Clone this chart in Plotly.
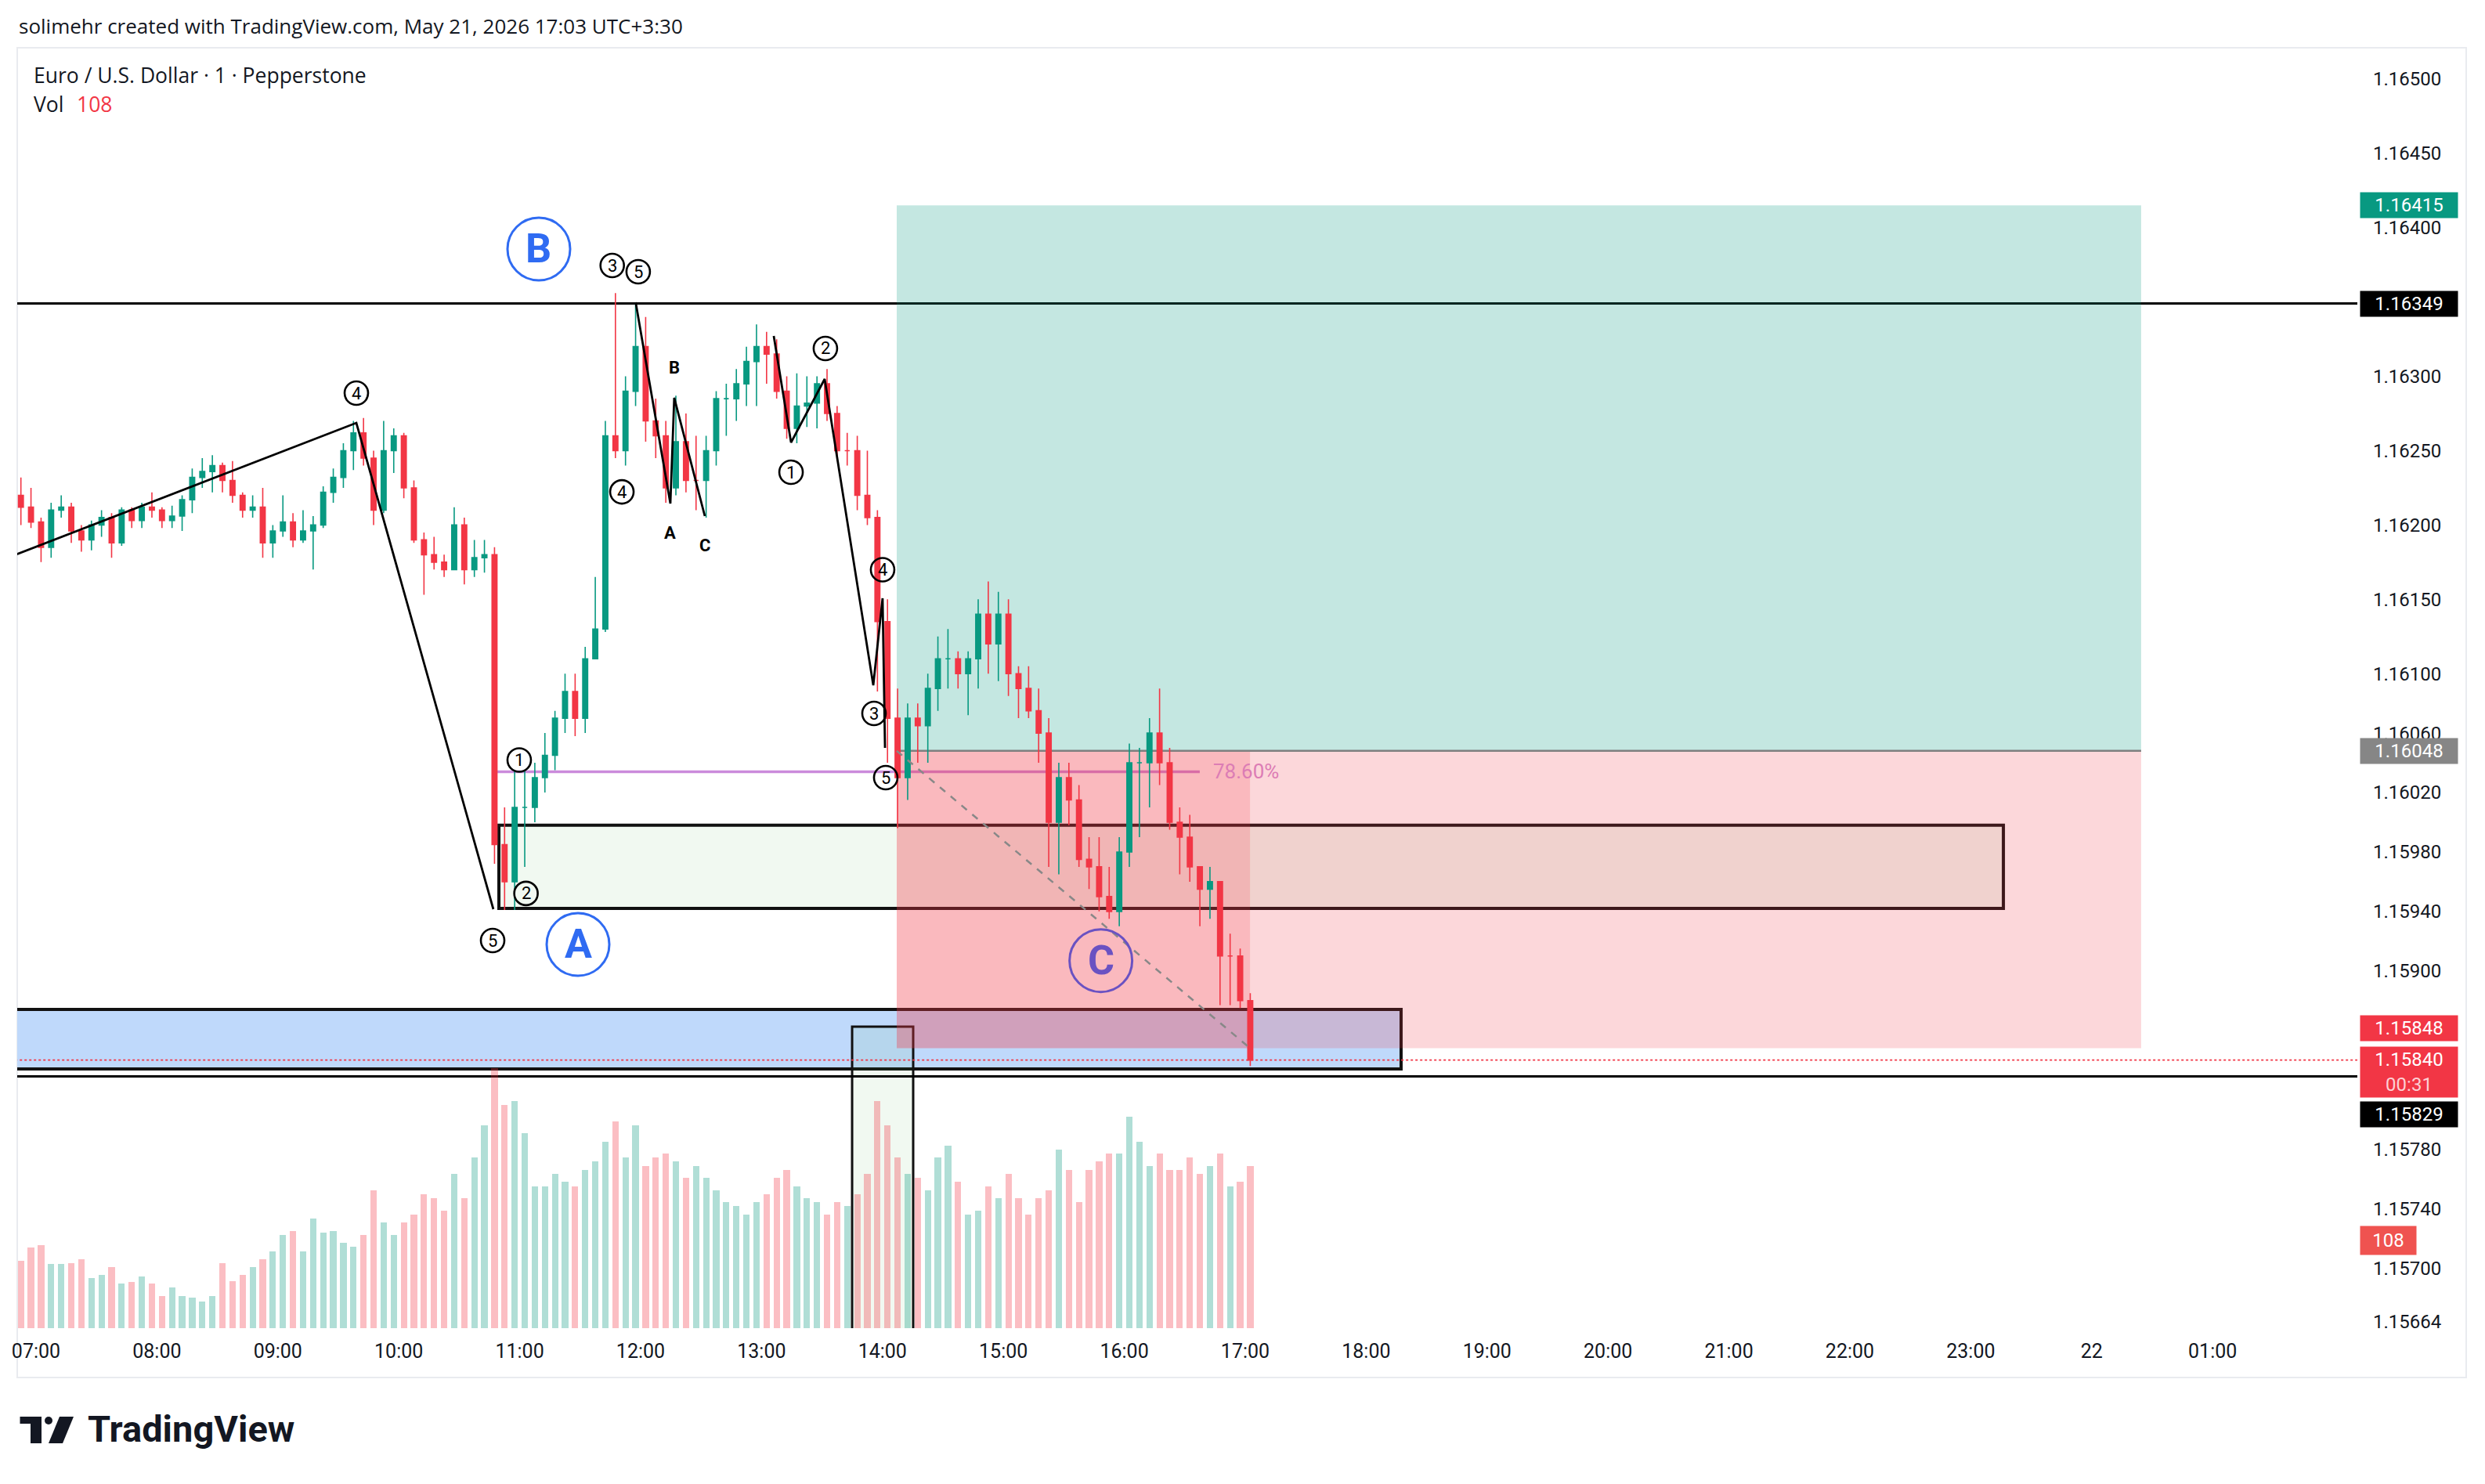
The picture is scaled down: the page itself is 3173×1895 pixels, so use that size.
import plotly.graph_objects as go

# ---------------- geometry of the figure (pixels) ----------------
FIG_W, FIG_H = 3173, 1895
PLOT_L, PLOT_R, PLOT_T, PLOT_B = 22, 3010, 61, 1696

X_RANGE = [6.8446, 26.197]          # hours of May 21 (24 = 22nd 00:00)
Y_RANGE = [1.156596, 1.165211]
VOL_RANGE = [0, 1577]

# ---------------- data (5-minute candles) ----------------
bar_times = [f"{h:02d}:{m:02d}" for h in range(6, 18) for m in range(0, 60, 5)
             if "06:50" <= f"{h:02d}:{m:02d}" <= "17:00"]

open_ = [1.16220,1.16212,1.16202,1.16185,1.16210,1.16212,1.16196,1.16190,1.16200,1.16205,
         1.16188,1.16210,1.16203,1.16212,1.16210,1.16203,1.16206,1.16217,1.16232,1.16236,
         1.16240,1.16230,1.16220,1.16210,1.16212,1.16188,1.16196,1.16202,1.16190,1.16196,
         1.16200,1.16222,1.16232,1.16250,1.16262,1.16245,1.16210,1.16250,1.16260,1.16225,
         1.16190,1.16180,1.16175,1.16170,1.16200,1.16170,1.16178,1.16180,1.15985,1.15960,
         1.16010,1.16010,1.16030,1.16045,1.16070,1.16088,1.16070,1.16110,1.16130,1.16260,
         1.16250,1.16290,1.16320,1.16270,1.16260,1.16225,1.16256,1.16230,1.16230,1.16250,
         1.16285,1.16285,1.16295,1.16310,1.16320,1.16315,1.16290,1.16265,1.16280,1.16282,
         1.16295,1.16275,1.16250,1.16250,1.16220,1.16205,1.16135,1.16070,1.16030,1.16070,
         1.16065,1.16090,1.16110,1.16110,1.16100,1.16110,1.16140,1.16120,1.16140,1.16100,
         1.16090,1.16075,1.16060,1.16000,1.16030,1.16015,1.15975,1.15970,1.15950,1.15940,
         1.15980,1.16040,1.16040,1.16060,1.16040,1.16000,1.15990,1.15970,1.15955,1.15960,
         1.15910,1.15910,1.15880]
high = [1.16232,1.16225,1.16205,1.16215,1.16220,1.16215,1.16200,1.16203,1.16210,1.16208,
        1.16212,1.16212,1.16215,1.16222,1.16212,1.16213,1.16220,1.16238,1.16245,1.16247,
        1.16242,1.16243,1.16222,1.16220,1.16225,1.16200,1.16220,1.16208,1.16210,1.16206,
        1.16226,1.16238,1.16255,1.16270,1.16272,1.16250,1.16270,1.16265,1.16262,1.16230,
        1.16195,1.16192,1.16180,1.16212,1.16205,1.16190,1.16190,1.16185,1.16010,1.16035,
        1.16035,1.16040,1.16060,1.16075,1.16100,1.16100,1.16118,1.16165,1.16270,1.16356,
        1.16300,1.16349,1.16340,1.16285,1.16270,1.16287,1.16275,1.16260,1.16260,1.16290,
        1.16295,1.16305,1.16320,1.16335,1.16330,1.16325,1.16300,1.16302,1.16300,1.16300,
        1.16305,1.16280,1.16262,1.16260,1.16250,1.16210,1.16150,1.16090,1.16080,1.16080,
        1.16100,1.16125,1.16130,1.16115,1.16115,1.16150,1.16162,1.16155,1.16150,1.16105,
        1.16105,1.16090,1.16070,1.16040,1.16040,1.16025,1.15990,1.15990,1.15970,1.15990,
        1.16053,1.16050,1.16070,1.16090,1.16050,1.16010,1.16005,1.15970,1.15970,1.15960,
        1.15925,1.15915,1.15885]
low = [1.16200,1.16198,1.16175,1.16178,1.16205,1.16188,1.16182,1.16183,1.16192,1.16178,
       1.16186,1.16198,1.16198,1.16205,1.16198,1.16198,1.16196,1.16208,1.16225,1.16222,
       1.16222,1.16215,1.16205,1.16205,1.16178,1.16178,1.16192,1.16185,1.16188,1.16170,
       1.16198,1.16215,1.16225,1.16237,1.16240,1.16200,1.16208,1.16235,1.16218,1.16188,
       1.16153,1.16170,1.16165,1.16170,1.16160,1.16165,1.16168,1.15972,1.15941,1.15941,
       1.15970,1.16000,1.16020,1.16035,1.16060,1.16058,1.16060,1.16110,1.16128,1.16245,
       1.16240,1.16280,1.16256,1.16245,1.16215,1.16220,1.16222,1.16210,1.16205,1.16240,
       1.16260,1.16270,1.16280,1.16280,1.16295,1.16285,1.16258,1.16255,1.16266,1.16265,
       1.16270,1.16243,1.16240,1.16210,1.16200,1.16088,1.16040,1.15996,1.16015,1.16040,
       1.16040,1.16075,1.16090,1.16090,1.16072,1.16090,1.16100,1.16095,1.16085,1.16070,
       1.16070,1.16040,1.15970,1.15965,1.15998,1.15970,1.15955,1.15940,1.15935,1.15930,
       1.15970,1.15990,1.16010,1.16025,1.15995,1.15965,1.15960,1.15930,1.15935,1.15877,
       1.15877,1.15875,1.15836]
close = [1.16212,1.16202,1.16185,1.16210,1.16212,1.16196,1.16190,1.16200,1.16205,1.16188,
         1.16210,1.16203,1.16212,1.16210,1.16203,1.16206,1.16217,1.16232,1.16236,1.16240,
         1.16230,1.16220,1.16210,1.16212,1.16188,1.16196,1.16202,1.16190,1.16196,1.16200,
         1.16222,1.16232,1.16250,1.16262,1.16245,1.16210,1.16250,1.16260,1.16225,1.16190,
         1.16180,1.16175,1.16170,1.16200,1.16170,1.16178,1.16180,1.15985,1.15960,1.16010,
         1.16010,1.16030,1.16045,1.16070,1.16088,1.16070,1.16110,1.16130,1.16260,1.16250,
         1.16290,1.16320,1.16270,1.16260,1.16225,1.16256,1.16230,1.16230,1.16250,1.16285,
         1.16285,1.16295,1.16310,1.16320,1.16315,1.16290,1.16265,1.16280,1.16282,1.16295,
         1.16275,1.16250,1.16250,1.16220,1.16205,1.16135,1.16070,1.16030,1.16070,1.16065,
         1.16090,1.16110,1.16110,1.16100,1.16110,1.16140,1.16120,1.16140,1.16100,1.16090,
         1.16075,1.16060,1.16000,1.16030,1.16015,1.15975,1.15970,1.15950,1.15940,1.15980,
         1.16040,1.16040,1.16060,1.16040,1.16000,1.15990,1.15970,1.15955,1.15960,1.15910,
         1.15910,1.15880,1.15840]
# volume per minute (average of each 5-minute block)
volume = [83,99,102,79,79,80,85,62,66,75,
          55,57,64,55,40,50,40,38,33,40,
          80,58,66,75,85,95,115,120,95,135,
          118,120,105,100,115,170,130,115,130,140,
          165,160,145,190,160,210,250,320,275,280,
          240,175,175,190,180,175,195,205,230,255,
          210,250,200,210,215,205,185,200,185,170,
          155,150,140,155,165,185,195,175,160,155,
          140,155,150,165,190,280,250,210,190,185,
          170,210,225,180,140,145,175,160,190,160,
          140,160,170,220,195,155,195,205,215,215,
          260,230,200,215,195,195,210,190,200,215,
          175,180,200]
last_bar_volume = 108

# x-axis ticks
tick_hours = [7, 8, 9, 10, 11, 12, 13, 14, 15, 16, 17, 18, 19, 20, 21, 22, 23, 24, 25]
tick_text = ["07:00", "08:00", "09:00", "10:00", "11:00", "12:00", "13:00", "14:00", "15:00",
             "16:00", "17:00", "18:00", "19:00", "20:00", "21:00", "22:00", "23:00", "22", "01:00"]
# y-axis ticks
price_ticks = [1.16500, 1.16450, 1.16400, 1.16300, 1.16250, 1.16200, 1.16150, 1.16100, 1.16060,
               1.16020, 1.15980, 1.15940, 1.15900, 1.15780, 1.15740, 1.15700, 1.15664]

# levels & drawings
level_high = 1.16349
level_low = 1.15829
last_price = 1.15840
entry_price, target_price, stop_price = 1.16048, 1.16415, 1.15848
pos_start, pos_now, pos_end = 14.118, 17.04, 24.409
green_zone = dict(t0=10.828, t1=23.27, p0=1.15942, p1=1.15998)
blue_zone = dict(t0=6.0, t1=18.289, p0=1.15834, p1=1.15874)
vol_zone = dict(t0=13.749, t1=14.254, p0=1.1550, p1=1.158625)
fib_price, fib_t0, fib_t1, fib_label_t = 1.16034, 10.80, 16.624, 17.006

# Elliott wave polylines
wave1_t = [6.80, 9.649, 10.782]
wave1_p = [1.16179, 1.162687, 1.159415]
wave2_t = [11.959, 12.246, 12.278, 12.531]
wave2_p = [1.163498, 1.162144, 1.162856, 1.162060]
wave3_t = [13.101, 13.244, 13.522, 13.924, 14.001, 14.021]
wave3_p = [1.163272, 1.162555, 1.162982, 1.160922, 1.161507, 1.160500]

# circled wave counts
count_text = ["4", "5", "1", "2", "3", "5", "4", "1", "2", "3", "4", "5"]
count_t = [9.649, 10.776, 10.996, 11.052, 11.765, 11.980, 11.845, 13.244, 13.528, 13.930, 14.001, 14.027]
count_p = [1.162887, 1.159204, 1.160419, 1.159521, 1.163746, 1.163704, 1.162223, 1.162355,
           1.163188, 1.160732, 1.161699, 1.160300]
# corrective letters
abc_text = ["B", "A", "C"]
abc_t = [12.278, 12.246, 12.531]
abc_p = [1.163061, 1.161949, 1.161865]
# big circled waves
big_text = ["B", "A", "C"]
big_t = [11.158, 11.482, 15.806]
big_p = [1.163857, 1.159178, 1.159069]
big_color = ["#2f6bf2", "#2f6bf2", "#6a52c2"]

# ---------------- helpers ----------------
def hours(s):
    h, m = s.split(":")
    return int(h) + int(m) / 60.0

def px(X):
    return (X - PLOT_L) / (PLOT_R - PLOT_L)

def py(Y):
    return (PLOT_B - Y) / (PLOT_B - PLOT_T)

bar_x = [hours(s) + 2.5 / 60 for s in bar_times]
UP, DOWN = "#089981", "#f23645"
vol_colors = ["rgba(8,153,129,0.32)" if c >= o else "rgba(242,54,69,0.32)" for o, c in zip(open_, close)]

FONT = "Roboto"
HEAD_FONT = "Open Sans"
TXT = "#131722"

fig = go.Figure()
fig.add_trace(go.Bar(x=bar_x, y=volume, width=3.2 / 60, marker=dict(color=vol_colors, line=dict(width=0)),
                     yaxis="y2", hoverinfo="skip", showlegend=False))
fig.add_trace(go.Candlestick(x=bar_x, open=open_, high=high, low=low, close=close,
                             increasing=dict(line=dict(color=UP, width=1.6), fillcolor=UP),
                             decreasing=dict(line=dict(color=DOWN, width=1.6), fillcolor=DOWN),
                             whiskerwidth=0, hoverinfo="skip", showlegend=False))
for wt, wp in ((wave1_t, wave1_p), (wave2_t, wave2_p), (wave3_t, wave3_p)):
    fig.add_trace(go.Scatter(x=wt, y=wp, mode="lines", line=dict(color="#000000", width=2.8),
                             hoverinfo="skip", showlegend=False))

shapes = []
def rect(t0, t1, p0, p1, fill, line_color=None, lw=0, layer="below"):
    shapes.append(dict(type="rect", xref="x", yref="y", x0=t0, x1=t1, y0=p0, y1=p1,
                       fillcolor=fill, line=dict(color=line_color or "rgba(0,0,0,0)", width=lw),
                       layer=layer))

def hline(p, t0, t1, color, width, dash="solid", layer="below"):
    shapes.append(dict(type="line", xref="x", yref="y", x0=t0, x1=t1, y0=p, y1=p,
                       line=dict(color=color, width=width, dash=dash), layer=layer))

# zones (under the position tool)
rect(green_zone["t0"], green_zone["t1"], green_zone["p0"], green_zone["p1"],
     "rgba(76,175,80,0.08)", "#111111", 4)
rect(blue_zone["t0"], blue_zone["t1"], blue_zone["p0"], blue_zone["p1"], "#bfd9fb", "#111111", 4)
rect(vol_zone["t0"], vol_zone["t1"], vol_zone["p0"], vol_zone["p1"], "rgba(76,175,80,0.08)", "#111111", 3)
hline(level_high, 5, 27, "#000000", 3)
hline(level_low, 5, 27, "#000000", 3)
hline(fib_price, fib_t0, fib_t1, "rgba(190,110,210,0.8)", 3.5)
# long position tool
rect(pos_start, pos_end, entry_price, target_price, "rgba(8,153,129,0.24)")
rect(pos_start, pos_now, stop_price, entry_price, "rgba(242,54,69,0.35)")
rect(pos_now, pos_end, stop_price, entry_price, "rgba(242,54,69,0.2)")
hline(entry_price, pos_start, pos_end, "#7f7f7f", 2.5)
shapes.append(dict(type="line", xref="x", yref="y", x0=pos_start, y0=entry_price, x1=pos_now, y1=stop_price,
                   line=dict(color="#888888", width=2.5, dash="dash"), layer="above"))
# last price dotted line
hline(last_price, 5, 27, "#f23645", 1.8, dash="dot", layer="above")

# circles for wave counts
for t, p in zip(count_t, count_p):
    shapes.append(dict(type="circle", xref="x", yref="y", xsizemode="pixel", ysizemode="pixel",
                       xanchor=t, yanchor=p, x0=-15, x1=15, y0=-15, y1=15,
                       line=dict(color="#000000", width=2.6), fillcolor="rgba(0,0,0,0)", layer="above"))
for t, p, c in zip(big_t, big_p, big_color):
    shapes.append(dict(type="circle", xref="x", yref="y", xsizemode="pixel", ysizemode="pixel",
                       xanchor=t, yanchor=p, x0=-40, x1=40, y0=-40, y1=40,
                       line=dict(color=c, width=3), fillcolor="rgba(0,0,0,0)", layer="above"))

# chart frame
shapes.append(dict(type="rect", xref="paper", yref="paper", x0=px(22), x1=px(3149), y0=py(1759), y1=py(61),
                   line=dict(color="#e9ebef", width=2), fillcolor="rgba(0,0,0,0)", layer="below"))

# TradingView logo mark
def ppath(points):
    return "M " + " L ".join(f"{px(a):.6f},{py(b):.6f}" for a, b in points) + " Z"
shapes.append(dict(type="path", xref="paper", yref="paper",
                   path=ppath([(25.5, 1809), (53, 1809), (53, 1843), (39, 1843), (39, 1818), (25.5, 1818)]),
                   fillcolor=TXT, line=dict(width=0)))
shapes.append(dict(type="circle", xref="paper", yref="paper", x0=px(57), x1=px(67), y0=py(1819), y1=py(1809),
                   fillcolor=TXT, line=dict(width=0)))
shapes.append(dict(type="path", xref="paper", yref="paper",
                   path=ppath([(76, 1809), (94, 1809), (80, 1843), (62, 1843)]),
                   fillcolor=TXT, line=dict(width=0)))

ann = []
def text_px(x, y, s, size, color=TXT, anchor="left", bold=False, family=HEAD_FONT):
    ann.append(dict(xref="paper", yref="paper", x=px(x), y=py(y), text=f"<b>{s}</b>" if bold else s,
                    xanchor=anchor, yanchor="middle", showarrow=False,
                    font=dict(size=size, color=color, family=family)))

text_px(22, 33, "solimehr created with TradingView.com, May 21, 2026 17:03 UTC+3:30", 26)
text_px(41, 96, "Euro / U.S. Dollar · 1 · Pepperstone", 26.5)
text_px(41, 133, "Vol", 26.5)
text_px(96, 133, str(last_bar_volume), 26.5, color="#f23645")
text_px(110, 1824, "TradingView", 47, bold=True, family=FONT)

for s, t, p in zip(count_text, count_t, count_p):
    ann.append(dict(x=t, y=p, xref="x", yref="y", text=s, showarrow=False,
                    font=dict(size=22, color="#000000", family=FONT)))
for s, t, p in zip(abc_text, abc_t, abc_p):
    ann.append(dict(x=t, y=p, xref="x", yref="y", text=f"<b>{s}</b>", showarrow=False,
                    font=dict(size=22, color="#000000", family=FONT)))
for s, t, p, c in zip(big_text, big_t, big_p, big_color):
    ann.append(dict(x=t, y=p, xref="x", yref="y", text=f"<b>{s}</b>", showarrow=False,
                    font=dict(size=52, color=c, family=FONT)))
ann.append(dict(x=fib_label_t, y=fib_price, xref="x", yref="y", text="78.60%", showarrow=False,
                font=dict(size=26, color="#dc7db5", family=FONT)))

# price tags on the scale
def tag(value, text, bg, yshift=0, height=32, yref="y", width=124):
    ann.append(dict(xref="paper", yref=yref, x=px(3013), y=value, xanchor="left", yanchor="middle",
                    text=text, showarrow=False, bgcolor=bg, width=width, height=height, borderpad=0,
                    align="center", yshift=yshift, font=dict(size=24, color="#ffffff", family=FONT)))

tag(target_price, f"{target_price:.5f}", "#089981")
tag(level_high, f"{level_high:.5f}", "#000000")
tag(entry_price, f"{entry_price:.5f}", "#868686")
tag(stop_price, f"{stop_price:.5f}", "#f23645", yshift=25)
tag(last_price, f"{last_price:.5f}<br><span style='color:#fcd0d4'>00:31</span>", "#f23645", yshift=-15, height=64)
tag(level_low, f"{level_low:.5f}", "#000000", yshift=-48)
tag(last_bar_volume, str(last_bar_volume), "#ef5350", yref="y2", width=71, height=36)

fig.update_layout(
    width=FIG_W, height=FIG_H, autosize=False,
    margin=dict(l=PLOT_L, r=FIG_W - PLOT_R, t=PLOT_T, b=FIG_H - PLOT_B, pad=0),
    paper_bgcolor="#ffffff", plot_bgcolor="#ffffff",
    font=dict(family=FONT, color=TXT),
    showlegend=False, bargap=0,
    shapes=shapes, annotations=ann,
    xaxis=dict(range=X_RANGE, tickvals=tick_hours, ticktext=tick_text, showgrid=False, zeroline=False,
               showline=False, ticks="", tickfont=dict(size=25, color=TXT, family=FONT),
               ticklabelstandoff=12, rangeslider=dict(visible=False), fixedrange=True),
    yaxis=dict(range=Y_RANGE, side="right", tickvals=price_ticks, ticktext=[f"{v:.5f}" for v in price_ticks],
               showgrid=False, zeroline=False, showline=False, ticks="",
               tickfont=dict(size=24, color=TXT, family=FONT), ticklabelstandoff=19, fixedrange=True),
    yaxis2=dict(range=VOL_RANGE, overlaying="y", visible=False, fixedrange=True),
)

fig.write_html("out.html")
